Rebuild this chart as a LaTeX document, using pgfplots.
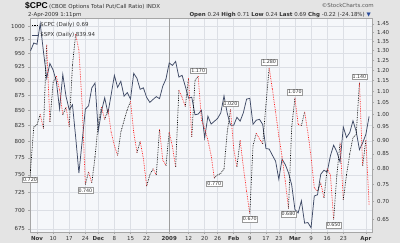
\documentclass[border=0pt]{standalone}
\usepackage{fontspec}
\setmainfont{DejaVu Sans}
\newfontfamily\lib{Liberation Sans}
\usepackage{pgfplots}
\pgfplotsset{compat=1.18}
\usepackage{pgfplotstable}
\definecolor{bgout}{HTML}{E4E4E4}
\definecolor{bgplot}{HTML}{F5F7FA}
\definecolor{gridc}{HTML}{DCDFE5}
\definecolor{spxc}{HTML}{3F4A66}
\definecolor{txt}{HTML}{333333}
\definecolor{cpcred}{HTML}{FF1A1A}
\definecolor{arrowblue}{HTML}{2A4D9B}

\pgfplotstableread{
i v
-2 954.09
-1 968.75
0 966.30
1 1005.75
2 952.77
3 904.88
4 930.99
5 919.21
6 898.95
7 852.30
8 911.29
9 873.29
10 850.75
11 859.12
12 806.58
13 752.44
14 800.03
15 851.81
16 857.39
17 887.68
18 896.24
19 816.21
20 848.81
21 870.74
22 845.22
23 876.07
24 909.70
25 888.67
26 899.24
27 873.59
28 879.73
29 868.57
30 913.18
31 904.42
32 885.28
33 887.88
34 871.63
35 863.16
36 868.15
37 872.80
38 869.42
39 890.64
40 903.25
41 931.80
42 927.45
43 934.70
44 906.65
45 909.73
46 890.35
47 870.26
48 871.79
49 842.62
50 843.74
51 850.12
52 805.22
53 840.24
54 827.50
55 831.95
56 836.57
57 845.71
58 874.09
59 845.14
60 825.88
61 825.44
62 838.51
63 832.23
64 845.85
65 868.60
66 869.89
67 827.16
68 833.74
69 835.19
70 826.84
71 789.17
72 788.42
73 778.94
74 770.05
75 743.33
76 773.14
77 764.90
78 752.83
79 735.09
80 700.82
81 696.33
82 712.87
83 682.55
84 683.38
85 676.53
86 719.60
87 721.36
88 750.74
89 756.55
90 753.89
91 778.12
92 794.35
93 784.04
94 768.54
95 822.92
96 806.12
97 813.88
98 832.86
99 815.94
100 787.53
101 797.87
102 811.08
103 839.94
}\spx

\pgfplotstableread{
i v d
-3 0.720 1
-2 0.797 1
-1 0.950 1
0 0.958 1
1 1.000 0
2 0.944 1
3 1.330 0
4 0.970 1
5 1.140 1
6 1.170 0
7 1.106 0
8 0.998 1
9 1.030 0
10 0.951 1
11 1.225 1
12 1.390 0
13 1.300 0
14 1.040 0
15 0.750 1
16 0.790 0
17 0.755 1
18 0.840 1
19 0.965 1
20 1.030 0
21 0.980 1
22 1.020 0
23 0.930 0
24 0.880 0
25 0.845 1
26 0.930 1
27 0.975 1
28 1.020 1
29 1.055 0
30 0.930 0
31 0.855 1
32 0.895 0
33 0.835 0
34 0.745 1
35 0.780 1
36 0.800 0
37 0.780 1
38 0.940 0
39 0.830 0
40 0.810 1
41 0.930 0
42 0.877 0
43 0.806 1
44 1.105 0
45 1.072 0
46 1.033 1
47 1.160 0
48 0.913 1
49 1.150 1
50 1.170 0
51 0.977 0
52 0.944 0
53 0.900 0
54 0.845 0
55 0.770 1
56 0.780 1
57 0.785 1
58 0.800 1
59 0.930 1
60 1.020 0
61 0.870 0
62 0.806 1
63 0.900 0
64 0.806 0
65 0.730 0
66 0.666 1
67 0.880 1
68 0.925 0
69 0.905 0
70 0.886 1
71 1.040 1
72 1.210 0
73 1.110 0
74 1.010 0
75 0.915 0
76 0.840 0
77 0.760 0
78 0.680 1
79 0.950 1
80 1.070 0
81 0.960 0
82 0.955 1
83 1.010 0
84 0.930 0
85 0.840 0
86 0.740 0
87 0.730 1
88 0.755 0
89 0.710 1
90 0.800 0
91 0.780 0
92 0.650 1
93 0.780 1
94 0.890 0
95 0.705 1
96 0.780 1
97 0.850 1
98 0.910 1
99 0.920 1
100 1.140 0
101 0.810 1
102 0.900 0
103 0.690 0
}\cpc

\tikzset{lbl/.style={draw=gray!80, fill=white, inner sep=0.8bp, text=txt,
  font=\fontsize{4.8}{5}\selectfont, line width=0.4bp}}

\begin{document}
\begin{tikzpicture}
\fill[bgout] (0,0) rectangle (400bp,243bp);
\path[use as bounding box] (0,0) rectangle (400bp,243bp);
\node[anchor=base west, inner sep=0] at (25bp,234bp) {\lib\fontsize{8.5}{9}\selectfont\bfseries \$CPC};
\node[anchor=base west, inner sep=0, text=txt] at (49bp,234bp) {\fontsize{5.5}{6}\selectfont (CBOE Options Total Put/Call Ratio) INDX};
\node[anchor=base west, inner sep=0, text=txt] at (28bp,226.5bp) {\fontsize{5.5}{6}\selectfont 2-Apr-2009 1:11pm};
\node[anchor=base east, inner sep=0, text=txt] at (371bp,226.5bp) {\fontsize{5.5}{6}\selectfont \textbf{Open} 0.24 \textbf{High} 0.71 \textbf{Low} 0.24 \textbf{Last} 0.69 \textbf{Chg} -0.22 (-24.18\%) \textcolor{arrowblue}{▼}};
\node[anchor=base east, inner sep=0, text=gray!70!black] at (374bp,235bp) {\fontsize{5.5}{6}\selectfont ©StockCharts.com};

\begin{axis}[
  at={(30bp,11bp)}, anchor=south west, scale only axis,
  width=342bp, height=214bp,
  xmin=-2.17, xmax=103.9,
  ymode=log, ymin=671, ymax=1017,
  ytick={675,700,725,750,775,800,825,850,875,900,925,950,975,1000},
  yticklabels={675,700,725,750,775,800,825,850,875,900,925,950,975,1000},
  xtick={0,5,10,15,19,24,29,34,41,47,52,56,61,66,71,75,80,85,90,95,102},
  xticklabels={\textbf{Nov},10,17,24,\textbf{Dec},8,15,22,\textbf{2009},12,20,26,\textbf{Feb},9,17,23,\textbf{Mar},9,16,23,\textbf{Apr}},
  xtick pos=bottom, ytick pos=left,
  tick align=outside, major tick length=2bp,
  tick style={gray!70, line width=0.4bp},
  axis line style={gray!70, line width=0.5bp},
  axis background/.style={fill=bgplot},
  grid=major, major grid style={gridc, line width=0.4bp},
  ticklabel style={font=\fontsize{5.5}{6}\selectfont, text=txt},
  xticklabel style={yshift=1bp},
  yticklabel style={xshift=0.5bp},
  clip mode=individual,
  legend style={at={(0.004,0.988)}, anchor=north west, draw=none, fill=none,
     font=\fontsize{5.5}{6}\selectfont, text=txt, inner sep=0pt, row sep=0.3pt,
     cells={anchor=west}},
  legend image code/.code={\draw[#1] (0bp,0bp) -- (6bp,0bp);},
]
\draw[gray!75, line width=0.6bp] (axis cs:41,671) -- (axis cs:41,1017);
\addlegendimage{black, densely dotted, line width=0.6bp}
\addlegendentry{\$CPC (Daily) 0.69}
\addplot[spxc, line width=0.75bp, mark=none] table[x=i, y=v] {\spx};
\addlegendentry{\$SPX (Daily) 839.94}
\end{axis}

\begin{axis}[
  at={(30bp,11bp)}, anchor=south west, scale only axis,
  width=342bp, height=214bp,
  xmin=-2.17, xmax=103.9,
  ymode=log, ymin=0.617, ymax=1.486,
  axis x line=none, axis y line*=right,
  ytick={0.65,0.70,0.75,0.80,0.85,0.90,0.95,1.00,1.05,1.10,1.15,1.20,1.25,1.30,1.35,1.40,1.45},
  yticklabels={0.65,0.70,0.75,0.80,0.85,0.90,0.95,1.00,1.05,1.10,1.15,1.20,1.25,1.30,1.35,1.40,1.45},
  tick align=outside, major tick length=2bp,
  tick style={gray!70, line width=0.4bp},
  axis line style={gray!70, line width=0.5bp},
  ticklabel style={font=\fontsize{5.5}{6}\selectfont, text=txt},
  yticklabel style={xshift=-0.5bp},
  clip mode=individual,
  point meta min=0, point meta max=1,
  colormap={updown}{color=(cpcred) color=(black)},
]
\addplot[mesh, shader=flat corner, point meta=explicit, densely dotted, line width=0.7bp]
  table[x=i, y=v, meta=d] {\cpc};
\node[lbl] at (axis cs:-2.17,0.764) {0.720};
\node[lbl, anchor=north, yshift=-3bp] at (axis cs:15,0.75) {0.740};
\node[lbl, anchor=south, yshift=3bp] at (axis cs:50,1.17) {1.170};
\node[lbl, anchor=north, yshift=-3bp] at (axis cs:55,0.77) {0.770};
\node[lbl, anchor=south, yshift=3bp] at (axis cs:60,1.02) {1.020};
\node[lbl, anchor=north, yshift=-3bp] at (axis cs:66,0.666) {0.670};
\node[lbl, anchor=south, yshift=3bp] at (axis cs:72,1.21) {1.280};
\node[lbl, anchor=north, yshift=-3bp] at (axis cs:78,0.68) {0.680};
\node[lbl, anchor=south, yshift=3bp] at (axis cs:80,1.07) {1.070};
\node[lbl, anchor=north, yshift=-3bp] at (axis cs:92,0.65) {0.650};
\node[lbl, anchor=south, yshift=3bp] at (axis cs:100,1.14) {1.140};
\end{axis}
\end{tikzpicture}
\end{document}
